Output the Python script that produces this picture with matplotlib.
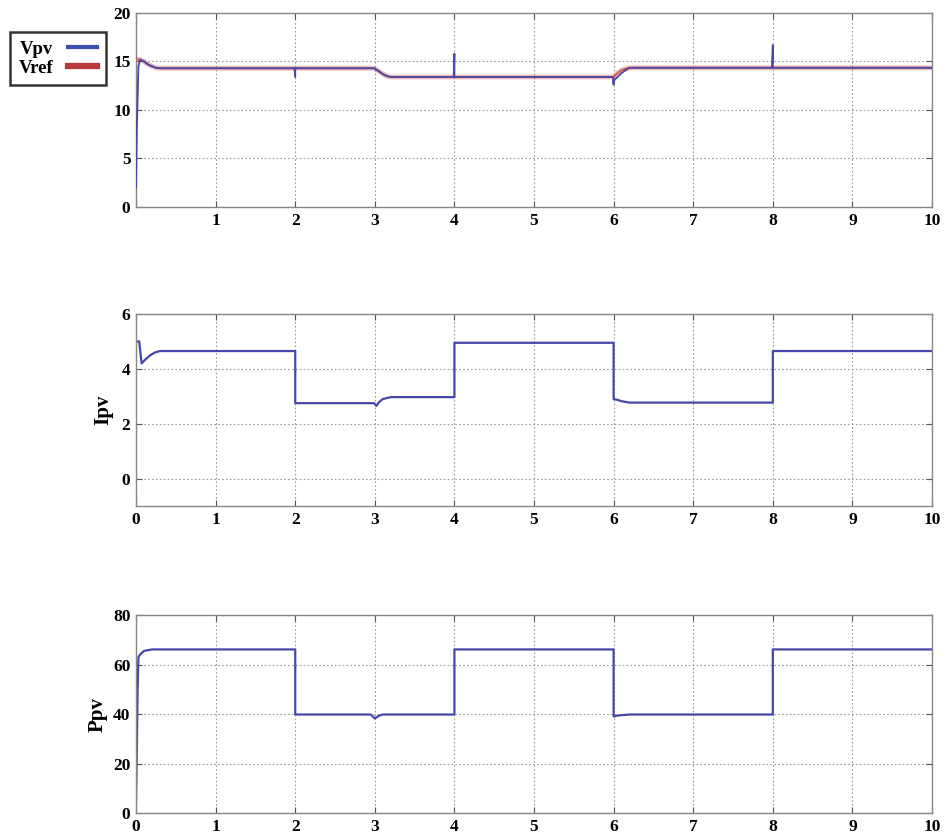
import matplotlib
matplotlib.use("Agg")
import matplotlib.pyplot as plt
from matplotlib.lines import Line2D

# ---------------- data ----------------
t_vpv = [0.0, 0.01, 0.03, 0.05, 0.10, 0.15, 0.20, 0.25, 0.30, 1.99, 2.0, 2.0, 2.01, 2.99,
         3.05, 3.10, 3.15, 3.20, 3.99, 4.0, 4.0, 4.01, 5.99, 6.0, 6.0, 6.05, 6.10, 6.15, 6.20,
         7.99, 8.0, 8.0, 8.01, 10.0]
v_pv = [2.0, 8.0, 14.5, 15.2, 15.0, 14.7, 14.5, 14.35, 14.3, 14.3, 13.4, 14.3, 14.3, 14.3,
        14.0, 13.7, 13.5, 13.4, 13.4, 15.8, 13.4, 13.4, 13.4, 12.6, 13.0, 13.4, 13.8, 14.1, 14.35,
        14.35, 16.7, 14.35, 14.35, 14.35]

t_vref = [0.03, 0.05, 0.10, 0.15, 0.20, 0.25, 0.30, 2.99, 3.05, 3.10, 3.15, 3.20,
          6.0, 6.05, 6.10, 6.15, 6.20, 10.0]
v_ref = [15.2, 15.2, 15.0, 14.7, 14.5, 14.35, 14.3, 14.3, 14.0, 13.7, 13.5, 13.4,
         13.4, 13.8, 14.1, 14.25, 14.35, 14.35]

t_ipv = [0.0, 0.04, 0.07, 0.12, 0.18, 0.24, 0.30, 2.0, 2.0, 2.99, 3.02, 3.05, 3.10, 3.20,
         4.0, 4.0, 6.0, 6.0, 6.05, 6.10, 6.20, 8.0, 8.0, 10.0]
i_pv = [5.0, 5.0, 4.2, 4.35, 4.5, 4.6, 4.65, 4.65, 2.75, 2.75, 2.65, 2.78, 2.9, 2.97,
        2.97, 4.95, 4.95, 2.9, 2.87, 2.82, 2.77, 2.77, 4.65, 4.65]

t_ppv = [0.0, 0.01, 0.02, 0.03, 0.05, 0.10, 0.20, 2.0, 2.0, 2.95, 3.0, 3.05, 3.10,
         4.0, 4.0, 6.0, 6.0, 6.05, 6.20, 8.0, 8.0, 10.0]
p_pv = [5.0, 25.0, 50.0, 63.0, 64.0, 65.5, 66.1, 66.1, 39.8, 39.8, 38.2, 39.3, 39.8,
        39.8, 66.1, 66.1, 39.0, 39.4, 39.8, 39.8, 66.1, 66.1]

x_ticks = list(range(0, 11))
x_labels_top = [""] + [str(k) for k in range(1, 11)]
x_labels = [str(k) for k in range(0, 11)]
v_ticks = [0, 5, 10, 15, 20]
i_ticks = [0, 2, 4, 6]
p_ticks = [0, 20, 40, 60, 80]

# ---------------- style ----------------
plt.rcParams['font.family'] = ['Liberation Serif', 'DejaVu Serif']
plt.rcParams['font.weight'] = 'bold'
BLUE = '#4548a8'
LEG_BLUE = '#3a50b0'
RED = '#d03838'
LEG_RED = '#b83a3a'

fig = plt.figure(figsize=(9.46, 8.36), dpi=100)
ax1 = fig.add_axes([0.1438, 0.7524, 0.8414, 0.2321])
ax2 = fig.add_axes([0.1438, 0.3947, 0.8414, 0.2297])
ax3 = fig.add_axes([0.1438, 0.0275, 0.8414, 0.2368])


def style(ax, yticks, ylim, xlabels):
    ax.set_xlim(0, 10)
    ax.set_ylim(*ylim)
    ax.set_xticks(x_ticks)
    ax.set_xticklabels(xlabels, fontsize=12.5, fontweight='bold')
    ax.set_yticks(yticks)
    ax.set_yticklabels([str(v) for v in yticks], fontsize=12.5, fontweight='bold')
    ax.grid(True, linestyle=(0, (1.5, 2)), color='#999999', linewidth=0.8)
    ax.tick_params(direction='in', length=4, width=0.8, color='#555555', pad=4,
                   top=True, right=True)
    for s in ax.spines.values():
        s.set_color('#888888')
        s.set_linewidth(1.0)


# top: Vpv and Vref
ax1.plot(t_vref, v_ref, color=RED, linewidth=3.5, alpha=0.35, zorder=3)
ax1.plot(t_vref, v_ref, color=RED, linewidth=1.2, alpha=0.8, zorder=3)
ax1.plot(t_vpv, v_pv, color=BLUE, linewidth=1.3, zorder=4)
style(ax1, v_ticks, (0, 20), x_labels_top)

handles = [Line2D([0], [0], color=LEG_BLUE, linewidth=3),
           Line2D([0], [0], color=LEG_RED, linewidth=4.5)]
leg = fig.legend(handles, ['Vpv', 'Vref'], loc='upper left',
                 bbox_to_anchor=(0.0106, 0.9617), frameon=True, fancybox=False,
                 prop={'weight': 'bold', 'size': 13.5}, handlelength=1.55,
                 handletextpad=0.8, borderpad=0.45, labelspacing=0.12,
                 markerfirst=False, borderaxespad=0)
leg.get_frame().set_edgecolor('black')
leg.get_frame().set_linewidth(1.8)

# middle: Ipv
ax2.plot(t_ipv, i_pv, color=BLUE, linewidth=1.6)
style(ax2, i_ticks, (-1, 6), x_labels)
ax2.set_ylabel('Ipv', fontsize=15, fontweight='bold', labelpad=6)

# bottom: Ppv
ax3.plot(t_ppv, p_pv, color=BLUE, linewidth=1.6)
style(ax3, p_ticks, (0, 80), x_labels)
ax3.set_ylabel('Ppv', fontsize=15, fontweight='bold', labelpad=4)

fig.savefig('out.png', dpi=100)
